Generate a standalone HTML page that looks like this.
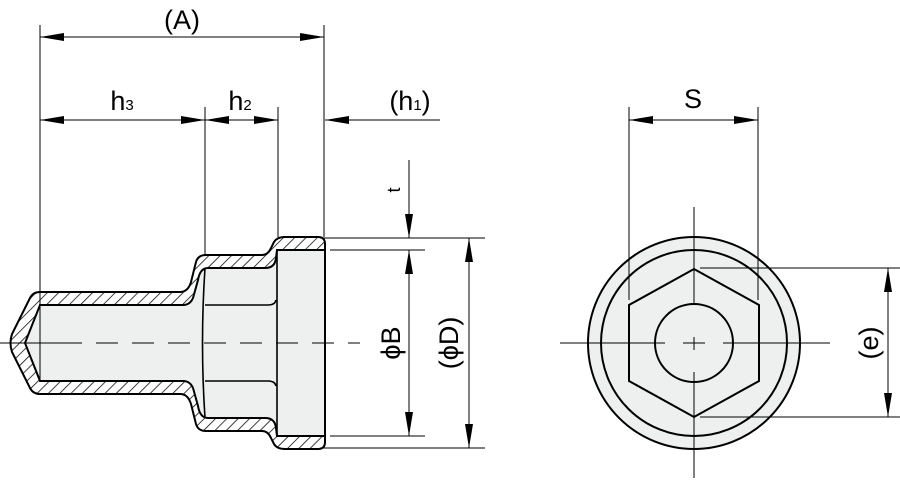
<!DOCTYPE html>
<html><head><meta charset="utf-8"><style>html,body{margin:0;padding:0;background:#fff}svg{display:block}</style></head>
<body>
<svg width="900" height="480" viewBox="0 0 900 480" xmlns="http://www.w3.org/2000/svg" font-family="Liberation Sans, sans-serif">
<defs>
<pattern id="h" width="8" height="8" patternUnits="userSpaceOnUse" patternTransform="rotate(45)">
<rect width="8" height="8" fill="#fff"/><line x1="0" y1="0" x2="0" y2="8" stroke="#000" stroke-width="1.5"/>
</pattern>
<marker id="a" viewBox="0 0 24 8" refX="24" refY="4" markerWidth="24" markerHeight="8" markerUnits="userSpaceOnUse" orient="auto-start-reverse"><path d="M0,0 L24,4 L0,8 Z" fill="#000"/></marker>
</defs>
<path fill="url(#h)" fill-rule="evenodd" stroke="none" d="M40,292 L180,292 Q188,292 191,282 L196,262 Q198,255 206,255 L262,255 Q268,255 271,248 L274,242 Q277,237 285,237 L318,237 Q325,237 325,244 L325,442 Q325,449 318,449 L285,449 Q277,449 274,444 L271,438 Q268,431 262,431 L206,431 Q198,431 196,424 L191,404 Q188,394 180,394 L40,394 Q33,394 30,388 L12,352 Q9,343 12,334 L30,298 Q33,292 40,292 Z M40,305 L183,305 Q190,305 193,298 L198,280 Q200,268 208,268 L265,268 Q275,268 276,258 L277,250 L325,250 L325,436 L277,436 L276,428 Q275,418 265,418 L208,418 Q200,418 198,406 L193,388 Q190,381 183,381 L40,381 L25,343 Z"/>
<path fill="none" stroke="#000" stroke-width="2" d="M40,292 L180,292 Q188,292 191,282 L196,262 Q198,255 206,255 L262,255 Q268,255 271,248 L274,242 Q277,237 285,237 L318,237 Q325,237 325,244 L325,442 Q325,449 318,449 L285,449 Q277,449 274,444 L271,438 Q268,431 262,431 L206,431 Q198,431 196,424 L191,404 Q188,394 180,394 L40,394 Q33,394 30,388 L12,352 Q9,343 12,334 L30,298 Q33,292 40,292 Z"/>
<path fill="#eeefef" stroke="#000" stroke-width="2" d="M40,305 L183,305 Q190,305 193,298 L198,280 Q200,268 208,268 L265,268 Q275,268 276,258 L277,250 L325,250 L325,436 L277,436 L276,428 Q275,418 265,418 L208,418 Q200,418 198,406 L193,388 Q190,381 183,381 L40,381 L25,343 Z"/>
<g fill="none" stroke="#000" stroke-width="1.6">
<path d="M205,268 Q200,343 205,418"/>
<line x1="277" y1="250" x2="277" y2="436"/>
<path d="M205,305 L268,305 Q275,305 276,300"/>
<path d="M205,381 L268,381 Q275,381 276,386"/>
</g>
<g stroke="#000" stroke-width="1" fill="none">
<line x1="0" y1="343" x2="60" y2="343"/>
<line x1="60" y1="343" x2="360" y2="343" stroke-dasharray="22,14"/>
<line x1="40" y1="25" x2="40" y2="381"/>
<line x1="324" y1="25" x2="324" y2="237"/>
<line x1="205" y1="107" x2="205" y2="255"/>
<line x1="278" y1="107" x2="278" y2="237"/>
<line x1="40" y1="37" x2="324" y2="37" marker-start="url(#a)" marker-end="url(#a)"/>
<line x1="40" y1="120" x2="205" y2="120" marker-start="url(#a)" marker-end="url(#a)"/>
<line x1="205" y1="120" x2="278" y2="120" marker-start="url(#a)" marker-end="url(#a)"/>
<line x1="440" y1="120" x2="325" y2="120" marker-end="url(#a)"/>
<line x1="320" y1="238" x2="485" y2="238"/>
<line x1="330" y1="250" x2="425" y2="250"/>
<line x1="330" y1="436" x2="425" y2="436"/>
<line x1="320" y1="448" x2="485" y2="448"/>
<line x1="409" y1="160" x2="409" y2="238" marker-end="url(#a)"/>
<line x1="409" y1="250" x2="409" y2="436" marker-start="url(#a)" marker-end="url(#a)"/>
<line x1="469" y1="238" x2="469" y2="448" marker-start="url(#a)" marker-end="url(#a)"/>
</g>
<g font-size="27" fill="#000">
<text x="182" y="29" text-anchor="middle">(A)</text>
<text x="122" y="110" text-anchor="middle">h<tspan font-size="15">3</tspan></text>
<text x="240" y="110" text-anchor="middle">h<tspan font-size="15">2</tspan></text>
<text x="410" y="110" text-anchor="middle">(h<tspan font-size="15">1</tspan>)</text>
<text transform="translate(400,190) rotate(-90)" font-size="18" text-anchor="middle">t</text>
<text transform="translate(400,343) rotate(-90)" text-anchor="middle">ϕB</text>
<text transform="translate(458,343) rotate(-90)" text-anchor="middle">(ϕD)</text>
<text x="693" y="108" text-anchor="middle">S</text>
<text transform="translate(878,343) rotate(-90)" text-anchor="middle">(e)</text>
</g>
<circle cx="694" cy="343" r="106" fill="#eeefef" stroke="#000" stroke-width="2"/>
<circle cx="694" cy="343" r="93" fill="none" stroke="#000" stroke-width="2"/>
<polygon points="694,269 759,305 759,381 694,417 629,381 629,305" fill="none" stroke="#000" stroke-width="2"/>
<circle cx="694" cy="343" r="39" fill="none" stroke="#000" stroke-width="2"/>
<g stroke="#000" stroke-width="1" fill="none">
<line x1="694" y1="207" x2="694" y2="305"/>
<line x1="694" y1="337" x2="694" y2="350"/>
<line x1="694" y1="372" x2="694" y2="478"/>
<line x1="560" y1="343" x2="665" y2="343"/>
<line x1="683" y1="343" x2="705" y2="343"/>
<line x1="723" y1="343" x2="830" y2="343"/>
<line x1="629" y1="107" x2="629" y2="300"/>
<line x1="758" y1="107" x2="758" y2="300"/>
<line x1="629" y1="120" x2="758" y2="120" marker-start="url(#a)" marker-end="url(#a)"/>
<line x1="700" y1="268" x2="900" y2="268"/>
<line x1="700" y1="417" x2="900" y2="417"/>
<line x1="888" y1="268" x2="888" y2="417" marker-start="url(#a)" marker-end="url(#a)"/>
</g>
</svg>
</body></html>
